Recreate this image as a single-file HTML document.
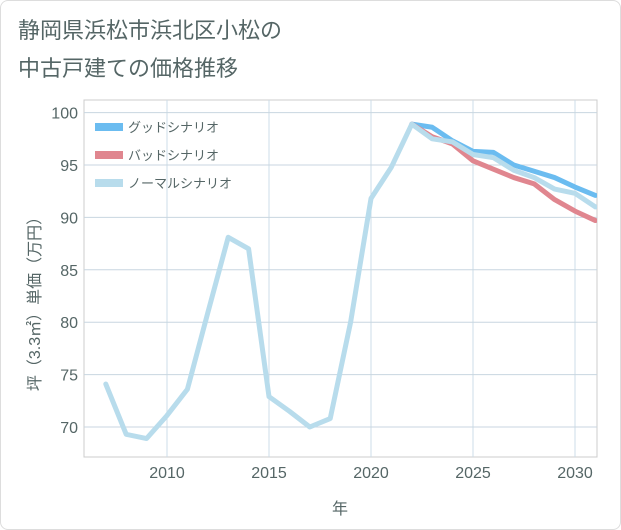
<!DOCTYPE html>
<html><head><meta charset="utf-8"><style>
body{margin:0;background:#fff;font-family:"Liberation Sans","Noto Sans CJK JP",sans-serif;}
#wrap{position:relative;width:619px;height:528px;border:1px solid #ddd;border-radius:8px;background:#fff;}
</style></head><body>
<div id="wrap">
<svg id="chart" width="621" height="530" style="position:absolute;left:-1px;top:-1px">
<text x="18" y="38" font-size="22" fill="#566">静岡県浜松市浜北区小松の</text>
<text x="18" y="76" font-size="22" fill="#566">中古戸建ての価格推移</text>
<g id="grid"></g><g id="series"></g><g id="axes"></g><g id="legend"></g>
</svg></div>
<script>
const years=[2007,2008,2009,2010,2011,2012,2013,2014,2015,2016,2017,2018,2019,2020,2021,2022,2023,2024,2025,2026,2027,2028,2029,2030,2031];
const normal=[74.1,69.3,68.9,71.1,73.6,80.9,88.1,87.0,72.9,71.5,70.0,70.8,80.0,91.8,94.8,98.9,97.5,97.2,96.0,95.7,94.5,93.8,92.7,92.3,91.0];
const goodYears=[2022,2023,2024,2025,2026,2027,2028,2029,2030,2031];
const good=[98.9,98.6,97.3,96.3,96.2,95.0,94.4,93.8,92.9,92.1];
const bad=[98.9,97.7,97.0,95.4,94.6,93.8,93.2,91.7,90.6,89.7];
const xTicks=[2010,2015,2020,2025,2030];
const yTicks=[70,75,80,85,90,95,100];
const L=84,R=597,T=100,B=457;
const x=v=>167+(v-2010)*20.4;
const y=v=>427-(v-70)*10.48;
const NS="http://www.w3.org/2000/svg";
function mk(p,t,a){const e=document.createElementNS(NS,t);for(const k in a)e.setAttribute(k,a[k]);p.appendChild(e);return e;}
const g=document.getElementById('grid'),s=document.getElementById('series'),ax=document.getElementById('axes'),lg=document.getElementById('legend');
mk(g,'rect',{x:L,y:T,width:R-L,height:B-T,fill:'#fff',stroke:'#ccc'});
xTicks.forEach(t=>{mk(g,'line',{x1:x(t),x2:x(t),y1:T,y2:B,stroke:'#cddde8'});});
yTicks.forEach(t=>{mk(g,'line',{x1:L,x2:R,y1:y(t),y2:y(t),stroke:'#c8d6e0'});});
xTicks.forEach(t=>{const e=mk(ax,'text',{x:x(t),y:478,'text-anchor':'middle','font-size':16,fill:'#566'});e.textContent=t;

});
yTicks.forEach(t=>{const e=mk(ax,'text',{x:78,y:y(t)+6,'text-anchor':'end','font-size':16,fill:'#566'});e.textContent=t;

});
const xt=mk(ax,'text',{x:340,y:514,'text-anchor':'middle','font-size':16,fill:'#566'});xt.textContent='年';


const yt=mk(ax,'text',{x:0,y:0,'text-anchor':'middle','font-size':16,fill:'#566',transform:'translate(40,300) rotate(-90)'});yt.textContent='坪（3.3㎡）単価（万円）';


function line(xs,vs,c,name){const d=xs.map((yr,i)=>(i?'L':'M')+x(yr)+','+y(vs[i])).join('');const p=mk(s,'path',{d:d,fill:'none',stroke:c,'stroke-width':5,'stroke-linejoin':'round','stroke-linecap':'round'});

}
const clip=mk(s,'clipPath',{id:'c'});mk(clip,'rect',{x:L,y:T,width:R-L,height:B-T});s.setAttribute('clip-path','url(#c)');
line(goodYears,good,'#6bbcf0','good-scenario-line');
line(goodYears,bad,'#e0868f','bad-scenario-line');
line(years,normal,'#b8dcec','normal-scenario-line');
[['グッドシナリオ','#6bbcf0'],['バッドシナリオ','#e0868f'],['ノーマルシナリオ','#b8dcec']].forEach((it,i)=>{
const gy=127+i*28;
const r=mk(lg,'rect',{x:95,y:gy-4,width:28,height:8,fill:it[1]});


const t=mk(lg,'text',{x:128,y:gy+5,'font-size':13,fill:'#566'});t.textContent=it[0];

});
</script></body></html>
